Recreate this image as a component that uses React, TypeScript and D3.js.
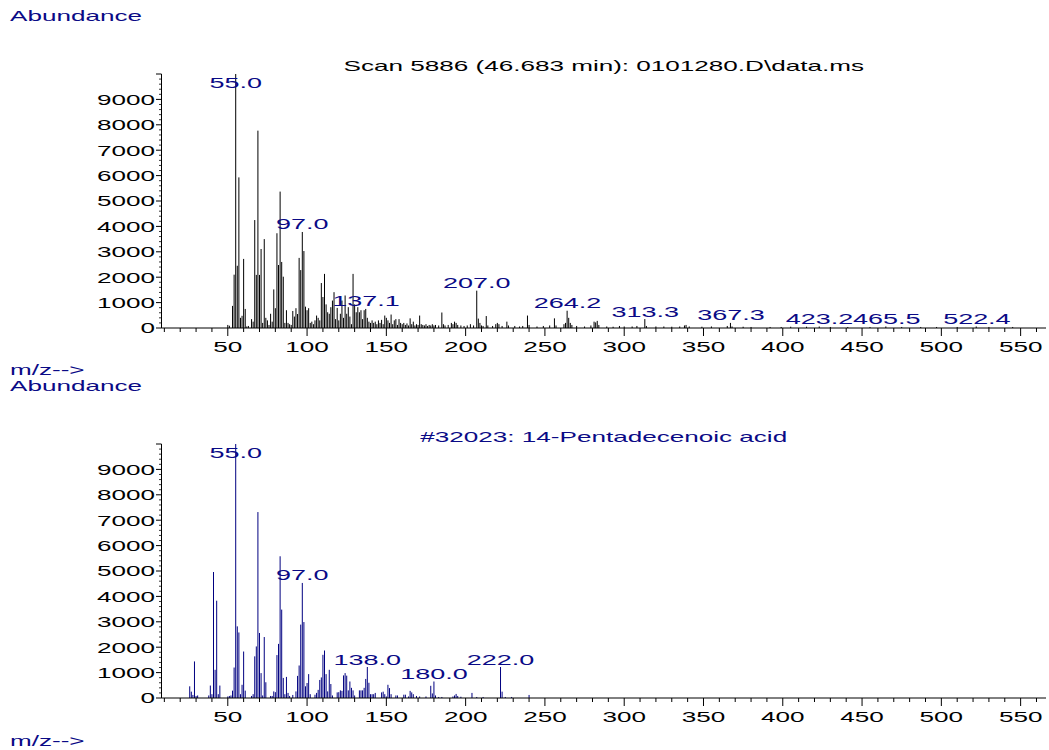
import React from "react";
import * as d3 from "d3";

// ---------- data ----------
const sampleMz = [50, 51, 53, 54, 55, 56, 57, 58, 59, 60, 61, 62, 63, 65, 66, 67, 68, 69, 70, 71, 72, 73, 74, 75, 76, 77, 78, 79, 80, 81, 82, 83, 84, 85, 86, 87, 88, 89, 90, 91, 92, 93, 94, 95, 96, 97, 98, 99, 100, 101, 102, 103, 104, 105, 106, 107, 108, 109, 110, 111, 112, 113, 114, 115, 116, 117, 118, 119, 120, 121, 122, 123, 124, 125, 126, 127, 128, 129, 130, 131, 132, 133, 134, 135, 136, 137, 138, 139, 140, 141, 142, 143, 144, 145, 146, 147, 148, 149, 150, 151, 152, 153, 154, 155, 156, 157, 158, 159, 160, 161, 162, 163, 164, 165, 166, 167, 168, 169, 170, 171, 172, 173, 174, 175, 176, 177, 178, 179, 180, 181, 183, 185, 186, 187, 189, 191, 192, 193, 194, 195, 197, 199, 201, 203, 205, 207, 208, 209, 210, 211, 213, 214, 217, 219, 220, 221, 223, 226, 227, 231, 234, 236, 239, 240, 245, 249, 253, 256, 257, 262, 263, 264, 265, 266, 267, 270, 275, 279, 281, 282, 283, 284, 289, 293, 297, 300, 305, 308, 313, 314, 320, 325, 330, 335, 338, 339, 341, 349, 355, 365, 367, 368, 375, 380, 392, 399, 405, 415, 423, 430, 441, 455, 465, 475, 487, 497, 510, 522, 530, 545];
const sampleAb = [120, 90, 870, 2100, 10000, 2450, 5930, 400, 480, 2720, 750, 60, 80, 350, 250, 4250, 2090, 7770, 2090, 3110, 200, 3500, 400, 300, 120, 560, 250, 1520, 780, 3730, 2480, 5370, 2600, 2020, 200, 700, 200, 150, 120, 670, 450, 780, 550, 2760, 2280, 3780, 3030, 840, 700, 780, 200, 250, 150, 300, 490, 400, 300, 1770, 1220, 2130, 930, 620, 560, 820, 1080, 1410, 350, 790, 300, 560, 1080, 400, 1280, 560, 820, 450, 150, 2130, 930, 620, 820, 620, 700, 350, 700, 750, 400, 250, 200, 300, 200, 250, 150, 300, 200, 320, 150, 490, 400, 300, 200, 530, 150, 300, 350, 120, 350, 200, 150, 200, 120, 180, 100, 380, 150, 250, 100, 150, 120, 490, 150, 120, 100, 150, 80, 120, 100, 150, 100, 120, 100, 610, 150, 100, 120, 200, 150, 250, 200, 120, 100, 80, 100, 150, 100, 1470, 370, 200, 100, 80, 470, 100, 80, 150, 200, 150, 80, 250, 100, 80, 60, 80, 490, 120, 60, 80, 100, 380, 100, 150, 200, 680, 400, 200, 120, 80, 60, 100, 250, 220, 280, 120, 60, 50, 80, 60, 60, 80, 350, 80, 60, 60, 50, 60, 100, 120, 60, 50, 60, 80, 200, 60, 50, 40, 40, 40, 50, 50, 60, 40, 40, 40, 60, 40, 40, 40, 40, 60, 40, 40];

const refMz = [26, 27, 28, 29, 30, 31, 38, 39, 40, 41, 42, 43, 44, 45, 50, 51, 52, 53, 54, 55, 56, 57, 58, 59, 60, 61, 65, 66, 67, 68, 69, 70, 71, 72, 73, 74, 77, 78, 79, 80, 81, 82, 83, 84, 85, 86, 87, 88, 89, 91, 93, 94, 95, 96, 97, 98, 99, 100, 101, 102, 105, 106, 107, 108, 109, 110, 111, 112, 113, 114, 115, 116, 119, 120, 121, 122, 123, 124, 125, 126, 127, 128, 129, 130, 133, 134, 135, 136, 137, 138, 139, 140, 141, 142, 143, 147, 148, 149, 150, 151, 152, 153, 156, 157, 161, 162, 164, 165, 166, 167, 169, 171, 175, 178, 179, 180, 181, 183, 185, 192, 193, 194, 195, 197, 204, 207, 211, 222, 223, 225, 229, 240];
const refAb = [460, 250, 120, 1440, 80, 100, 100, 490, 150, 4960, 1110, 3830, 150, 490, 60, 80, 100, 290, 1200, 10000, 2820, 2580, 150, 520, 1830, 290, 80, 150, 1640, 2030, 7320, 2560, 980, 100, 2400, 620, 80, 80, 260, 230, 1690, 2130, 5580, 3480, 790, 150, 830, 200, 80, 120, 260, 870, 1280, 2890, 4530, 2990, 460, 590, 940, 150, 130, 200, 320, 710, 810, 1700, 1870, 940, 260, 1110, 550, 100, 220, 230, 300, 280, 890, 980, 880, 300, 650, 400, 300, 100, 300, 300, 300, 400, 750, 1220, 600, 150, 150, 150, 200, 220, 250, 150, 60, 520, 390, 150, 100, 100, 130, 130, 60, 280, 220, 150, 80, 60, 60, 480, 180, 650, 100, 40, 40, 60, 100, 160, 80, 50, 200, 40, 40, 1220, 250, 40, 40, 120];

const sampleLabels = ["55.0", "97.0", "137.1", "207.0", "264.2", "313.3", "367.3", "423.2", "465.5", "522.4"];
const sampleLabelAb = [10000, 3780, 750, 1470, 680, 350, 200, 60, 60, 60];
const refLabels = ["55.0", "97.0", "138.0", "180.0", "222.0"];
const refLabelAb = [10000, 4530, 1220, 650, 1220];

const xTickLabels = [50, 100, 150, 200, 250, 300, 350, 400, 450, 500, 550];
const yTickLabels = [0, 1000, 2000, 3000, 4000, 5000, 6000, 7000, 8000, 9000];

const sampleTitle = "Scan 5886 (46.683 min): 0101280.D\\data.ms";
const refTitle = "#32023: 14-Pentadecenoic acid";

// ---------- styling ----------
const SX = 1.74;
const NAVY = "#0a0a86";
const FONT = "'Liberation Sans', Arial, sans-serif";

function Txt(props: { x: number; y: number; anchor?: string; size?: number; fill?: string; children: any }) {
  const { x, y, anchor = "start", size = 15, fill = "#000", children } = props;
  return (
    <g transform={`translate(${x},${y}) scale(${SX},1)`}>
      <text textAnchor={anchor as any} fontSize={size} fill={fill} fontFamily={FONT}>
        {children}
      </text>
    </g>
  );
}

function Spectrum(props: {
  top: number;
  bottom: number;
  mz: number[];
  ab: number[];
  labels: string[];
  labelAb: number[];
  color: string;
  title: string;
  titleFill: string;
  titleY: number;
}) {
  const { top, bottom, mz, ab, labels, labelAb, color, title, titleFill, titleY } = props;
  const left = 161.5;
  const right = 1046;
  const x = d3.scaleLinear().domain([8.2, 566]).range([left, right]);
  const y = d3.scaleLinear().domain([0, 10000]).range([bottom, top]);
  const yMinor = d3.range(0, 10001, 200).filter((v) => v % 1000 !== 0);
  const yMajor = d3.range(0, 10001, 1000);
  const xMinor = d3.range(10, 561, 10).filter((v) => v % 50 !== 0);
  return (
    <g>
      <Txt x={(left + right) / 2} y={titleY} anchor="middle" fill={titleFill}>
        {title}
      </Txt>
      {mz.map((m, i) => (
        <line key={"b" + i} x1={x(m)} x2={x(m)} y1={y(0)} y2={y(ab[i])} stroke={color} strokeWidth={1} />
      ))}
      {/* y axis */}
      <line x1={left} x2={left} y1={top} y2={bottom} stroke="#000" strokeWidth={1} />
      {yMinor.map((v) => (
        <line key={"ym" + v} x1={left - 2.5} x2={left} y1={y(v)} y2={y(v)} stroke="#000" strokeWidth={0.8} />
      ))}
      {yMajor.map((v) => (
        <line key={"yM" + v} x1={left - 5.5} x2={left} y1={y(v)} y2={y(v)} stroke="#000" strokeWidth={1} />
      ))}
      {yTickLabels.map((v) => (
        <Txt key={"yl" + v} x={155} y={y(v) + 5.3} anchor="end">
          {String(v)}
        </Txt>
      ))}
      {/* x axis */}
      <line x1={left} x2={right} y1={bottom} y2={bottom} stroke="#000" strokeWidth={1} />
      {xMinor.map((v) => (
        <line key={"xm" + v} x1={x(v)} x2={x(v)} y1={bottom} y2={bottom + 4} stroke="#000" strokeWidth={1} />
      ))}
      {xTickLabels.map((v) => (
        <line key={"xM" + v} x1={x(v)} x2={x(v)} y1={bottom} y2={bottom + 8} stroke="#000" strokeWidth={1} />
      ))}
      {xTickLabels.map((v) => (
        <Txt key={"xl" + v} x={x(v)} y={bottom + 24} anchor="middle">
          {String(v)}
        </Txt>
      ))}
      {/* peak labels */}
      {labels.map((l, i) => (
        <Txt
          key={"pl" + i}
          x={x(parseFloat(l))}
          y={Math.max(y(labelAb[i]) - 2.5, top + 14)}
          anchor="middle"
          size={15.5}
          fill={NAVY}
        >
          {l}
        </Txt>
      ))}
    </g>
  );
}

export default function App() {
  return (
    <svg
      width={1049}
      height={750}
      style={{ position: "absolute", left: 0, top: 0, display: "block", background: "#fff" }}
    >
      <rect x={0} y={0} width={1049} height={750} fill="#fff" />
      <Txt x={10} y={21} fill={NAVY}>Abundance</Txt>
      <Spectrum
        top={74}
        bottom={328}
        mz={sampleMz}
        ab={sampleAb}
        labels={sampleLabels}
        labelAb={sampleLabelAb}
        color="#000"
        title={sampleTitle}
        titleFill="#000"
        titleY={71}
      />
      <Txt x={10} y={375} fill={NAVY}>m/z--&gt;</Txt>
      <Txt x={10} y={391} fill={NAVY}>Abundance</Txt>
      <Spectrum
        top={444}
        bottom={698}
        mz={refMz}
        ab={refAb}
        labels={refLabels}
        labelAb={refLabelAb}
        color="#000080"
        title={refTitle}
        titleFill={NAVY}
        titleY={441.5}
      />
      <Txt x={10} y={746} fill={NAVY}>m/z--&gt;</Txt>
    </svg>
  );
}
